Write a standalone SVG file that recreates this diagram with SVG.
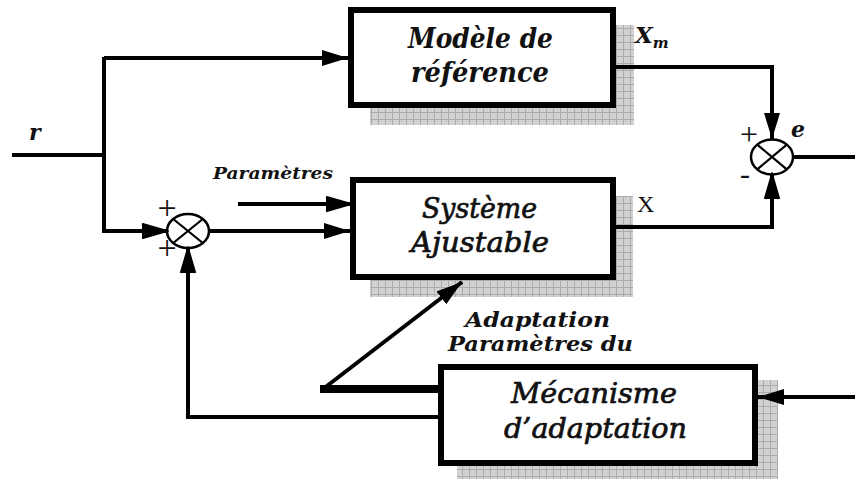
<svg xmlns="http://www.w3.org/2000/svg" width="855" height="479" viewBox="0 0 855 479" font-family="'DejaVu Serif', 'Liberation Serif', serif">
  <defs>
    <pattern id="grid" width="7" height="7" patternUnits="userSpaceOnUse">
      <rect width="7" height="7" fill="#d2d2d2"/>
      <path d="M0,0.5 H7 M0.5,0 V7" stroke="#acacac" stroke-width="1" fill="none"/>
    </pattern>
    <marker id="solid" markerUnits="userSpaceOnUse" markerWidth="28" markerHeight="18" refX="26" refY="8" orient="auto">
      <path d="M0,0 L26,8 L0,16 Z" fill="#000"/>
    </marker>
    <marker id="barb" markerUnits="userSpaceOnUse" markerWidth="28" markerHeight="18" refX="25" refY="8" orient="auto">
      <path d="M1,1 L25,8 L1,15 M10,6 L25,8 L10,10 Z" fill="#000" stroke="#000" stroke-width="2.5" stroke-linejoin="miter"/>
    </marker>
    <style>
      .box { fill: #fff; stroke: #000; stroke-width: 6; }
      .shadow { fill: url(#grid); }
      .wire { fill: none; stroke: #000; stroke-width: 4; }
      .sum { fill: #fff; stroke: #000; stroke-width: 2.5; }
      .cross { stroke: #000; stroke-width: 2.2; }
      .lbl { fill: #111; font-style: italic; }
      .b { font-weight: bold; }
      .m { stroke: #111; stroke-width: 0.7; }
      .sign { fill: #111; text-anchor: middle; font-family: "Liberation Serif", serif; }
    </style>
  </defs>

  <!-- reference model block -->
  <g id="reference-model">
    <rect class="shadow" x="370" y="25" width="264" height="100"/>
    <rect class="box" x="351" y="10" width="262" height="95"/>
    <text class="lbl b" x="408" y="48" font-size="27" textLength="145" lengthAdjust="spacingAndGlyphs">Modèle de</text>
    <text class="lbl b" x="411" y="82" font-size="27" textLength="138" lengthAdjust="spacingAndGlyphs">référence</text>
  </g>

  <!-- adjustable system block -->
  <g id="adjustable-system">
    <rect class="shadow" x="370" y="196" width="263" height="101"/>
    <rect class="box" x="353" y="180" width="260" height="97"/>
    <text class="lbl m" x="422" y="218" font-size="27" textLength="115" lengthAdjust="spacingAndGlyphs">Système</text>
    <text class="lbl m" x="411" y="252" font-size="27" textLength="138" lengthAdjust="spacingAndGlyphs">Ajustable</text>
  </g>

  <!-- adaptation mechanism block -->
  <g id="adaptation-mechanism">
    <rect class="shadow" x="457" y="380" width="321" height="99"/>
    <rect class="box" x="441" y="367" width="314" height="96"/>
    <text class="lbl m" x="511" y="403" font-size="27" textLength="166" lengthAdjust="spacingAndGlyphs">Mécanisme</text>
    <text class="lbl m" x="504" y="438" font-size="27" textLength="183" lengthAdjust="spacingAndGlyphs">d’adaptation</text>
  </g>

  <!-- input summing junction -->
  <g id="sum-input">
    <ellipse class="sum" cx="188" cy="231" rx="21" ry="17"/>
    <path class="cross" d="M173.2,219 L202.8,243 M173.2,243 L202.8,219"/>
    <text class="sign" x="167" y="219" font-size="34">+</text>
    <text class="sign" x="167" y="259" font-size="34">+</text>
  </g>

  <!-- error summing junction -->
  <g id="sum-error">
    <ellipse class="sum" cx="772" cy="157" rx="21" ry="17.5"/>
    <path class="cross" d="M757.2,144.6 L786.8,169.4 M757.2,169.4 L786.8,144.6"/>
    <text class="sign" x="749" y="145" font-size="32">+</text>
    <text class="sign" x="745" y="184" font-size="30">-</text>
  </g>

  <!-- connectors, drawn over the block shadows -->
  <g id="connectors">
    <path class="wire" d="M12,155 H104"/>
    <path class="wire" d="M104,57 V231 H166" marker-end="url(#barb)"/>
    <path class="wire" d="M104,58 H348" marker-end="url(#solid)"/>
    <path class="wire" d="M209,231 H350" marker-end="url(#solid)"/>
    <path class="wire" d="M238,204 H350" marker-end="url(#barb)"/>
    <path class="wire" d="M616,67 H772 V139" marker-end="url(#solid)"/>
    <path class="wire" d="M616,227 H772 V175" marker-end="url(#barb)"/>
    <path class="wire" d="M793,157 H855"/>
    <path class="wire" d="M855,397 H758" marker-end="url(#solid)"/>
    <path class="wire" d="M438,389 H320" style="stroke-width:8"/>
    <path class="wire" d="M323,389 L462,282" marker-end="url(#solid)"/>
    <path class="wire" d="M438,417 H188 V249" marker-end="url(#barb)"/>
  </g>

  <!-- signal labels -->
  <g id="labels">
    <text class="lbl b" x="29" y="140" font-size="22">r</text>
    <text class="lbl b" x="213" y="179" font-size="16" textLength="120" lengthAdjust="spacingAndGlyphs">Paramètres</text>
    <text class="lbl b" x="635" y="43" font-size="23">X<tspan font-size="15" dy="5">m</tspan></text>
    <text x="637" y="212" font-size="24" fill="#111" font-family="'Liberation Serif', serif">X</text>
    <text class="lbl b" x="791" y="137" font-size="22">e</text>
    <text class="lbl b" x="465" y="327" font-size="21" textLength="145" lengthAdjust="spacingAndGlyphs">Adaptation</text>
    <text class="lbl b" x="448" y="351" font-size="21" textLength="185" lengthAdjust="spacingAndGlyphs">Paramètres du</text>
  </g>
</svg>
